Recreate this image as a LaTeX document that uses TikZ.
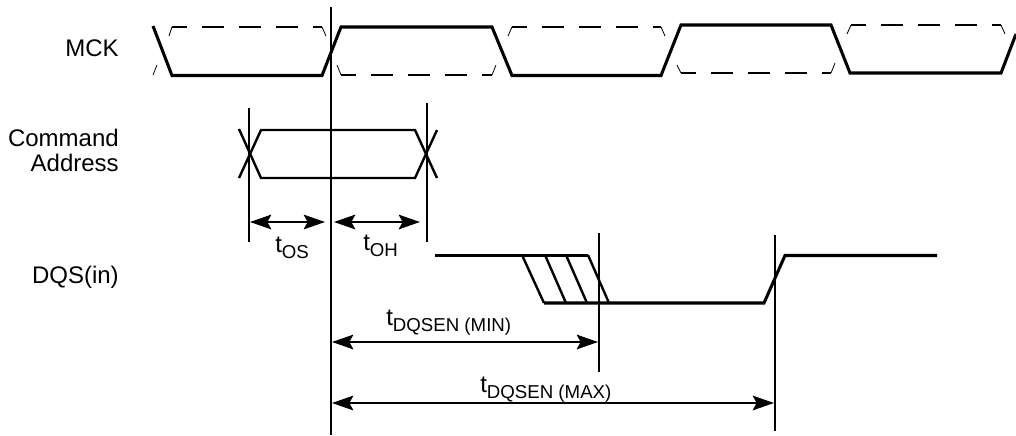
\documentclass[tikz,border=0pt]{standalone}
\usepackage{fontspec}
\setmainfont{Liberation Sans}
\usepackage{tikz}
\usetikzlibrary{arrows.meta}

\newcommand{\tsub}[1]{t\raisebox{-4.5pt}{\fontsize{14}{14}\selectfont #1}}

\begin{document}
\begin{tikzpicture}[x=0.75pt,y=-0.75pt]
	\tikzstyle{every node}=[font=\fontsize{18}{18.75}\selectfont,inner sep=0pt]
	\tikzstyle{signal}=[line width=2.3pt,line join=miter]
	\tikzstyle{bus}=[line width=1.8pt]
	\tikzstyle{hidden}=[line width=1.2pt,dash pattern=on 16.5pt off 11.25pt]
	\tikzstyle{tick}=[line width=0.6pt]
	\tikzstyle{guide}=[line width=1.4pt]
	\tikzstyle{span}=[line width=1.3pt,{Stealth[length=16pt,width=11pt,inset=3pt]}-{Stealth[length=16pt,width=11pt,inset=3pt]}]
	\tikzstyle{signame}=[anchor=base east,align=right]
	\tikzstyle{timing}=[anchor=base west]

	\useasboundingbox (0,0) rectangle (1016,435);

	%%MCK
	\draw [signal] (153,26) -- (172,75.5) -- (322,75.5) -- (341,27) -- (492,27) -- (512,75.5) -- (661,75.5) -- (681,25) -- (831,25) -- (850,73) -- (1001,73) -- (1016,34);
	\draw [tick] (153,75) -- (157,65);
	\draw [tick] (169,36) -- (172,27);
	\draw [hidden,dash phase=5.5pt] (172,27) -- (322,27);
	\draw [tick] (322,27) -- (326,36);
	\draw [tick] (337,65) -- (341,75);
	\draw [hidden,dash phase=5.5pt] (341,75) -- (492,75);
	\draw [tick] (492,75) -- (496,65);
	\draw [tick] (508,36) -- (512,27);
	\draw [hidden,dash phase=5.5pt] (512,27) -- (661,27);
	\draw [tick] (661,27) -- (665,36);
	\draw [tick] (677,65) -- (681,73);
	\draw [hidden,dash phase=5.5pt] (681,73) -- (831,73);
	\draw [tick] (831,73) -- (835,63);
	\draw [tick] (847,34) -- (851,25);
	\draw [hidden,dash phase=5.5pt] (851,25) -- (1001,25);
	\draw [tick] (1001,25) -- (1005,34);

	%%Command Address
	\draw [bus] (239,129) -- (261,178) -- (415,178) -- (437,130);
	\draw [bus] (239,178) -- (261,130) -- (415,130) -- (437,178);

	%%DQS(in)
	\draw [signal] (435,255.5) -- (588,255.5);
	\draw [signal] (544,303) -- (764,303) -- (785,255.5) -- (937,255.5);
	\draw [bus] (522,255) -- (544,303);
	\draw [bus] (545,255) -- (566,303);
	\draw [bus] (566,255) -- (587,303);
	\draw [bus] (588,255) -- (609,303);

	%%Guides
	\coordinate (clkTop) at (331,7);
	\coordinate (clkBot) at (331,435);
	\coordinate (osTop) at (249,108);
	\coordinate (osBot) at (249,242);
	\coordinate (ohTop) at (427,103);
	\coordinate (ohBot) at (427,242);
	\coordinate (minTop) at (599,233);
	\coordinate (minBot) at (599,372);
	\coordinate (maxTop) at (775,235);
	\coordinate (maxBot) at (775,431);
	\draw [guide] (clkTop) -- (clkBot);
	\draw [guide] (osTop) -- (osBot);
	\draw [guide] (ohTop) -- (ohBot);
	\draw [guide] (minTop) -- (minBot);
	\draw [guide] (maxTop) -- (maxBot);

	%%Spans
	\coordinate (osL) at (250,222);
	\coordinate (osR) at (325,222);
	\coordinate (ohL) at (334,222);
	\coordinate (ohR) at (420,222);
	\coordinate (minL) at (332,342);
	\coordinate (minR) at (598,342);
	\coordinate (maxL) at (332,403);
	\coordinate (maxR) at (774,403);
	\draw [span] (osL) -- (osR);
	\draw [span] (ohL) -- (ohR);
	\draw [span] (minL) -- (minR);
	\draw [span] (maxL) -- (maxR);

	%%Labels
	\node [signame] (mck) at (119,56) {MCK};
	\node [signame] (cmd) at (119,171) {Command\\Address};
	\node [signame] (dqs) at (119,283) {DQS(in)};
	\node [timing] (tos) at (275,252) {\tsub{OS}};
	\node [timing] (toh) at (363,250) {\tsub{OH}};
	\node [timing] (tmin) at (386,325) {\tsub{DQSEN (MIN)}};
	\node [timing] (tmax) at (480,392) {\tsub{DQSEN (MAX)}};
\end{tikzpicture}
\end{document}
